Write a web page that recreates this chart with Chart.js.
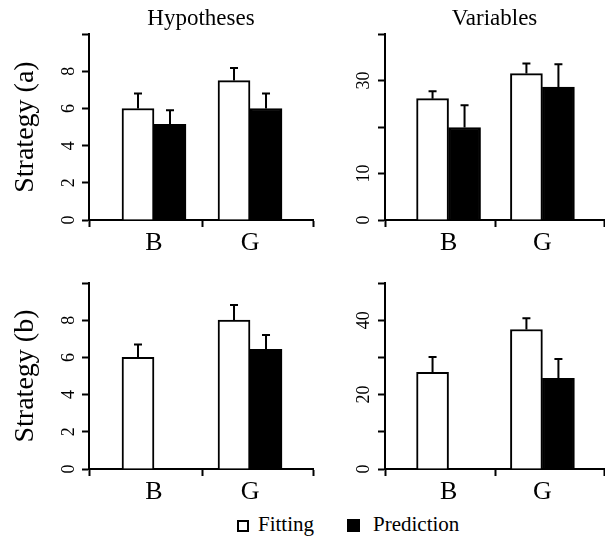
<!DOCTYPE html>
<html lang="en">
<head>
<meta charset="UTF-8">
<title>Hypotheses and Variables by Strategy</title>
<script src="https://cdn.jsdelivr.net/npm/chart.js@4"></script>
<style>
  body { margin: 0; background: #fff; font-family: 'Liberation Serif', 'Times New Roman', serif; color: #000; }
  .wrap { position: relative; width: 605px; height: 538px; overflow: hidden; }
  canvas { position: absolute; }
  .key { position: absolute; box-sizing: border-box; }
  .lbl { position: absolute; font-size: 21px; line-height: 21px; white-space: nowrap; }
</style>
</head>
<body>
<div class="wrap">
  <canvas id="hypA" width="320" height="255" style="left:0;top:0"></canvas>
  <canvas id="varA" width="285" height="255" style="left:320px;top:0"></canvas>
  <canvas id="hypB" width="320" height="249" style="left:0;top:255px"></canvas>
  <canvas id="varB" width="285" height="249" style="left:320px;top:255px"></canvas>

  <span class="key" style="left:237px;top:520px;width:12px;height:12px;border:2px solid #000"></span>
  <span class="lbl" style="left:258px;top:514px">Fitting</span>
  <span class="key" style="left:347px;top:519px;width:13px;height:13px;background:#000"></span>
  <span class="lbl" style="left:373px;top:514px">Prediction</span>
</div>

<script>
// categories and series
const groups = ['B', 'G'];
const seriesNames = ['Fitting', 'Prediction'];

// Strategy (a)
const hypAFit = [6.0, 7.5];
const hypAFitErr = [0.8, 0.67];
const hypAPred = [5.15, 6.0];
const hypAPredErr = [0.75, 0.8];

const varAFit = [26.1, 31.5];
const varAFitErr = [1.6, 2.2];
const varAPred = [19.9, 28.6];
const varAPredErr = [4.8, 4.9];

// Strategy (b)
const hypBFit = [6.0, 8.0];
const hypBFitErr = [0.7, 0.82];
const hypBPred = [null, 6.43];
const hypBPredErr = [null, 0.78];

const varBFit = [26.0, 37.5];
const varBFitErr = [4.1, 3.0];
const varBPred = [null, 24.4];
const varBPredErr = [null, 5.2];

// y tick labels (some ticks are left unlabelled in the original)
const hypTicks = ['0', '2', '4', '6', '8', ''];
const varATicks = ['0', '10', '', '30', ''];
const varBTicks = ['0', '', '20', '', '40', ''];

const X_MIN = -0.677, X_MAX = 1.656;
const FONT = "'Liberation Serif', 'Times New Roman', serif";

Chart.defaults.font.family = FONT;
Chart.defaults.color = '#000';

// upward whiskers with a cap
const errorBars = {
  id: 'errorBars',
  afterDatasetsDraw(chart) {
    const ctx = chart.ctx, ys = chart.scales.y;
    ctx.save();
    ctx.strokeStyle = '#000';
    ctx.lineWidth = 2;
    chart.data.datasets.forEach((ds, di) => {
      chart.getDatasetMeta(di).data.forEach((bar, i) => {
        const v = ds.data[i].y, e = ds.errors[i];
        if (v == null || e == null) return;
        const top = ys.getPixelForValue(v + e);
        ctx.beginPath();
        ctx.moveTo(bar.x, bar.y);
        ctx.lineTo(bar.x, top);
        ctx.moveTo(bar.x - 4, top);
        ctx.lineTo(bar.x + 4, top);
        ctx.stroke();
      });
    });
    ctx.restore();
  }
};

function makePanel(id, p) {
  const pts = arr => groups.map((g, i) => ({ x: i, y: arr[i] }));
  new Chart(document.getElementById(id), {
    type: 'bar',
    data: {
      datasets: [
        { label: seriesNames[0], data: pts(p.fit), errors: p.fitErr,
          backgroundColor: '#fff', borderColor: '#000', borderWidth: 2 },
        { label: seriesNames[1], data: pts(p.pred), errors: p.predErr,
          backgroundColor: '#000', borderColor: '#000', borderWidth: 2 }
      ]
    },
    options: {
      responsive: false,
      animation: false,
      barThickness: 32,
      layout: { padding: { top: p.padTop, right: p.padRight, left: 0, bottom: 0 } },
      plugins: {
        legend: { display: false },
        tooltip: { enabled: false },
        title: {
          display: !!p.title, text: p.title, fullSize: false, color: '#000',
          font: { size: 23, weight: 'normal' }, padding: { top: 5.5, bottom: 1 }
        }
      },
      scales: {
        x: {
          type: 'linear', min: X_MIN, max: X_MAX, offset: false,
          afterBuildTicks: s => { s.ticks = [X_MIN, 0, 0.5, 1, X_MAX].map(v => ({ value: v })); },
          afterFit: s => { s.height = 35; },
          border: { color: '#000', width: 2 },
          grid: {
            offset: false, drawOnChartArea: false, tickLength: 7, tickWidth: 2,
            tickColor: c => (c.tick && Number.isInteger(c.tick.value)) ? 'rgba(0,0,0,0)' : '#000'
          },
          ticks: {
            autoSkip: false, maxRotation: 0, padding: 1, color: '#000',
            font: { size: 26 },
            callback: v => v === 0 ? groups[0] : v === 1 ? groups[1] : ''
          }
        },
        y: {
          min: 0, max: p.max,
          afterFit: s => { s.width = p.axisWidth; },
          afterCalculateLabelRotation: s => { s.labelRotation = 90; },
          border: { color: '#000', width: 2 },
          grid: { drawOnChartArea: false, tickLength: 7, tickWidth: 2, tickColor: '#000' },
          ticks: {
            stepSize: p.step, crossAlign: 'center',
            padding: p.tickPad, color: '#000', font: { size: 18 },
            callback: (v, i) => p.tickLabels[i]
          },
          title: {
            display: !!p.yTitle, text: p.yTitle, color: '#000',
            font: { size: 28 }, padding: { top: 9, bottom: 0 }
          }
        }
      }
    },
    plugins: [errorBars]
  });
}

makePanel('hypA', { fit: hypAFit, fitErr: hypAFitErr, pred: hypAPred, predErr: hypAPredErr,
  max: 10, step: 2, tickLabels: hypTicks, title: 'Hypotheses', yTitle: 'Strategy (a)',
  axisWidth: 89, tickPad: 8, padTop: 0, padRight: 7 });
makePanel('varA', { fit: varAFit, fitErr: varAFitErr, pred: varAPred, predErr: varAPredErr,
  max: 40, step: 10, tickLabels: varATicks, title: 'Variables', yTitle: '',
  axisWidth: 65, tickPad: 5, padTop: 0, padRight: 0 });
makePanel('hypB', { fit: hypBFit, fitErr: hypBFitErr, pred: hypBPred, predErr: hypBPredErr,
  max: 10, step: 2, tickLabels: hypTicks, title: '', yTitle: 'Strategy (b)',
  axisWidth: 89, tickPad: 8, padTop: 28, padRight: 7 });
makePanel('varB', { fit: varBFit, fitErr: varBFitErr, pred: varBPred, predErr: varBPredErr,
  max: 50, step: 10, tickLabels: varBTicks, title: '', yTitle: '',
  axisWidth: 65, tickPad: 5, padTop: 28, padRight: 0 });
</script>
</body>
</html>
